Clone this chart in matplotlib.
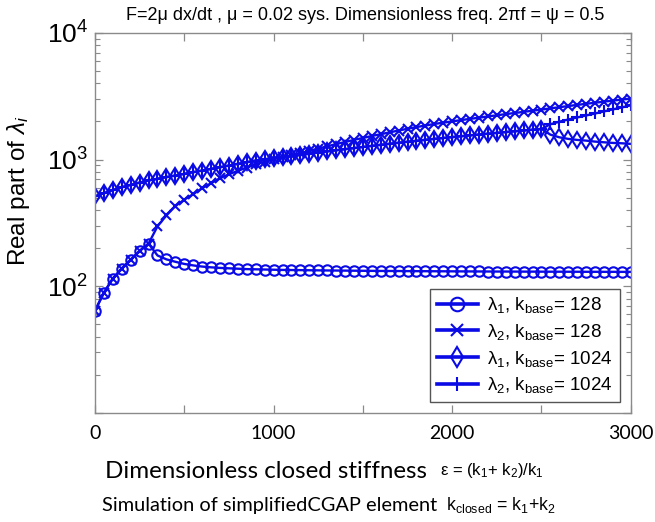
import numpy as np
import matplotlib
matplotlib.use("Agg")
import matplotlib.pyplot as plt
from matplotlib.ticker import FixedLocator, LogLocator, NullFormatter

plt.rcParams['mathtext.fontset'] = 'custom'
plt.rcParams['mathtext.rm'] = 'Liberation Sans'
plt.rcParams['mathtext.it'] = 'Liberation Sans:italic'
plt.rcParams['mathtext.bf'] = 'Liberation Sans:bold'
plt.rcParams['font.family'] = ['Liberation Sans', 'DejaVu Sans']

# ---- data ----
eps = np.arange(0, 3001, 50)

lam1_k128 = [64, 89, 115, 138, 162, 190, 217, 175, 163, 156,
             150, 146, 143, 141, 139.5, 138.5, 137.5, 136.5, 136, 135.5,
             135, 134.5, 134.2, 134, 133.7, 133.5, 133.2, 133, 132.8, 132.6,
             132.4, 132.2, 132, 131.9, 131.8, 131.6, 131.5, 131.4, 131.3, 131.2,
             131.1, 131, 130.9, 130.8, 130.7, 130.6, 130.6, 130.5, 130.4, 130.4,
             130.3, 130.2, 130.2, 130.1, 130.1, 130, 130, 129.9, 129.9, 129.8,
             129.8]

lam2_k128 = [64, 89, 115, 138, 162, 190, 217, 297, 362, 429,
             482, 533, 594, 650, 713, 765, 815, 865, 915, 960,
             1005, 1045, 1085, 1120, 1170, 1220, 1270, 1325, 1375, 1430,
             1480, 1535, 1585, 1640, 1695, 1750, 1805, 1855, 1910, 1955,
             2000, 2050, 2095, 2140, 2190, 2235, 2285, 2330, 2380, 2430,
             2480, 2535, 2590, 2645, 2700, 2755, 2810, 2865, 2920, 2975,
             3030]

lam1_k1024 = [512, 543, 574, 605, 631, 658, 684, 705, 727, 748,
              771, 795, 819, 844, 870, 897, 925, 953, 982, 1005,
              1025, 1045, 1067, 1088, 1112, 1136, 1160, 1184, 1208, 1232,
              1257, 1282, 1307, 1332, 1357, 1382, 1406, 1431, 1456, 1480,
              1504, 1528, 1552, 1576, 1600, 1624, 1648, 1672, 1696, 1720,
              1745, 1573, 1499, 1456, 1429, 1411, 1386, 1369, 1353, 1344,
              1330]

lam2_k1024 = [512, 543, 574, 605, 631, 658, 684, 705, 727, 748,
              771, 795, 819, 844, 870, 897, 925, 953, 982, 1005,
              1025, 1045, 1067, 1088, 1112, 1136, 1160, 1184, 1208, 1232,
              1257, 1282, 1307, 1332, 1357, 1382, 1406, 1431, 1456, 1480,
              1504, 1528, 1552, 1576, 1600, 1624, 1648, 1672, 1696, 1720,
              1745, 1900, 1990, 2070, 2150, 2230, 2310, 2400, 2490, 2580,
              2680]

labels = [r'$\mathrm{\lambda}_1$, k$_{\rm base}$= 128',
          r'$\mathrm{\lambda}_2$, k$_{\rm base}$= 128',
          r'$\mathrm{\lambda}_1$, k$_{\rm base}$= 1024',
          r'$\mathrm{\lambda}_2$, k$_{\rm base}$= 1024']

xticks_major = [0, 500, 1000, 1500, 2000, 2500, 3000]
xtick_labels = ['0', '', '1000', '', '2000', '', '3000']
yticks_major = [10, 100, 1000, 10000]
ytick_labels = ['', r'$10^2$', r'$10^3$', r'$10^4$']

# ---- figure ----
blue = '#0a0ae6'
frame = '#8a8a8a'
fig = plt.figure(figsize=(6.55, 5.22), dpi=100)
ax = fig.add_axes([0.145, 0.209, 0.818, 0.728])

common = dict(color=blue, lw=1.7, mew=1.5)
ax.plot(eps, lam1_k128, marker='o', ms=7.5, mfc='none', label=labels[0], **common)
ax.plot(eps, lam2_k128, marker='x', ms=6.5, label=labels[1], **common)
ax.plot(eps, lam1_k1024, marker='d', ms=8, mfc='none', label=labels[2], **common)
ax.plot(eps, lam2_k1024, marker='+', ms=8, label=labels[3], **common)

ax.set_yscale('log')
ax.set_xlim(0, 3000)
ax.set_ylim(10, 10000)

ax.xaxis.set_major_locator(FixedLocator(xticks_major))
ax.set_xticklabels(xtick_labels, fontfamily='Lato', fontsize=14)
ax.yaxis.set_major_locator(FixedLocator(yticks_major))
ax.set_yticklabels(ytick_labels, fontsize=19)
ax.yaxis.set_minor_locator(LogLocator(base=10, subs=np.arange(2, 10)))
ax.yaxis.set_minor_formatter(NullFormatter())

ax.tick_params(which='both', direction='in', top=True, right=True, color=frame)
ax.tick_params(which='major', length=6, width=0.9)
ax.tick_params(which='minor', length=3.5, width=0.8)
ax.tick_params(axis='x', pad=9)
ax.tick_params(axis='y', pad=5)
for s in ax.spines.values():
    s.set_color(frame)
    s.set_linewidth(1.0)

ax.set_ylabel(r'Real part of $\mathit{\lambda_i}$', fontsize=17.5)
ax.yaxis.set_label_coords(-0.1175, 0.585)

leg = ax.legend(loc='lower right', bbox_to_anchor=(0.979, 0.029), fontsize=13.5,
                fancybox=False, framealpha=1, edgecolor='#555555',
                handlelength=2.2, labelspacing=0.36, borderpad=0.35,
                handletextpad=0.5, borderaxespad=0, markerscale=1.3)
leg.get_frame().set_linewidth(1.0)
for h in leg.get_lines():
    h.set_linewidth(2.6)

fig.text(365 / 655, 1 - 16 / 522,
         'F=2\u03bc dx/dt , \u03bc = 0.02 sys. Dimensionless freq. 2\u03c0f = \u03c8 = 0.5',
         ha='center', va='center', fontsize=13, family='Liberation Sans')

fig.text(105 / 655, 1 - 472 / 522, 'Dimensionless closed stiffness',
         ha='left', va='center', fontsize=17.4, family='Lato')
fig.text(440 / 655, 1 - 470 / 522, r'$\mathrm{\epsilon}$ = (k$_1$+ k$_2$)/k$_1$',
         ha='left', va='center', fontsize=12, family='Liberation Sans')
fig.text(102 / 655, 1 - 505 / 522, 'Simulation of simplifiedCGAP element',
         ha='left', va='center', fontsize=14.4, family='Lato')
fig.text(446 / 655, 1 - 505 / 522, r'k$_{\rm closed}$ = k$_1$+k$_2$',
         ha='left', va='center', fontsize=12.8, family='Liberation Sans')

fig.savefig('out.png', dpi=100)
